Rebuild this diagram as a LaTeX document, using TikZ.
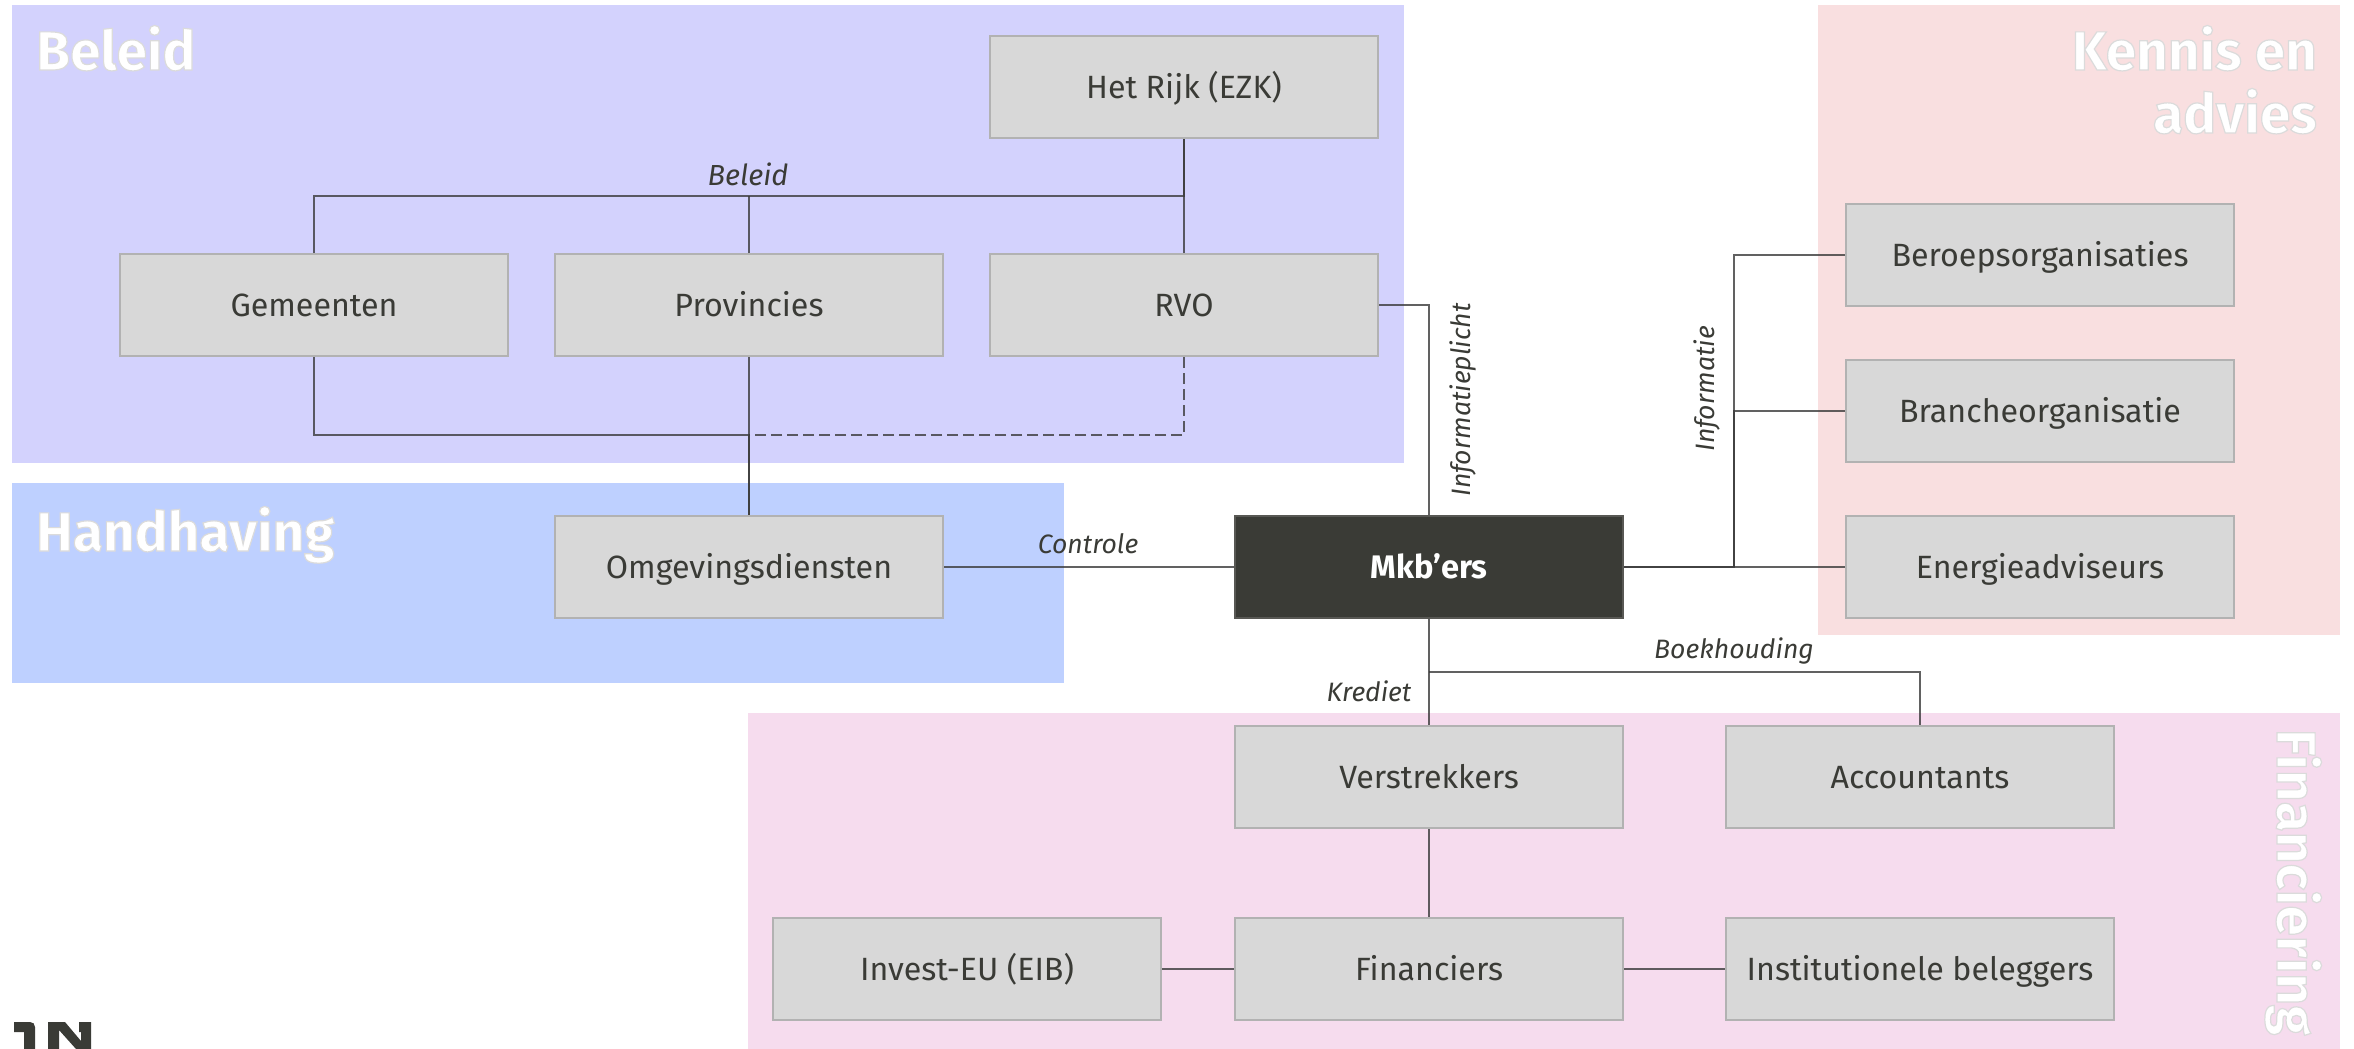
\documentclass[tikz,border=0pt]{standalone}
\usepackage{fontspec}
\setmainfont{Fira Sans}
\definecolor{ink}{HTML}{3A3B36}
\definecolor{boxfill}{HTML}{D8D8D8}
\definecolor{boxline}{HTML}{B2B2B2}
\definecolor{wire}{HTML}{3A3A3A}
\definecolor{zoneA}{HTML}{D3D2FD}
\definecolor{zoneB}{HTML}{BED0FF}
\definecolor{zoneC}{HTML}{F9DFE0}
\definecolor{zoneD}{HTML}{F6DCEE}
\newcommand{\outl}[1]{\special{pdf:code q 2 Tr 1.2 w 0.86 0.86 0.86 RG}#1\special{pdf:code Q}}
\tikzset{
  x=1pt,y=-1pt,
  zone/.style={fill=#1,draw=none},
  org/.style={draw=boxline,fill=boxfill,line width=2pt,minimum width=388pt,minimum height=102pt,inner sep=0pt,text=ink,text height=30pt,text depth=7pt,font=\fontsize{32.2}{38}\selectfont},
  actor/.style={org,draw=ink!85!white,fill=ink,text=white,font=\fontsize{32.6}{38}\selectfont\bfseries},
  wirel/.style={draw=wire,line width=2pt,opacity=.8},
  dashedwire/.style={wirel,dashed,dash pattern=on 11pt off 5pt},
  lab/.style={inner sep=0pt,text=ink,font=\fontsize{26.6}{32}\selectfont\itshape},
  head/.style={inner sep=0pt,text=white,font=\fontsize{55}{63}\selectfont\bfseries},
}
\begin{document}
\begin{tikzpicture}
\useasboundingbox (0,0) rectangle (2354,1049);
\fill[zone=zoneA] (12,5) rectangle (1404,463);
\fill[zone=zoneB] (12,483) rectangle (1064,683);
\fill[zone=zoneC] (1818,5) rectangle (2340,635);
\fill[zone=zoneD] (748,713) rectangle (2340,1049);

\node[head,anchor=base west] (hbeleid) at (36,70) {\outl{Beleid}};
\node[head,anchor=base west] (hhand) at (36,551) {\outl{Handhaving}};
\node[head,anchor=base east] (hkennis) at (2317,70) {\outl{Kennis en}};
\node[head,anchor=base east] (hadvies) at (2317,133) {\outl{advies}};
\node[head,anchor=base west,rotate=-90] (hfin) at (2277,729) {\outl{Financiering}};

\node[org] (rijk) at (1184,87) {Het Rijk (EZK)};
\node[org] (gem) at (314,305) {Gemeenten};
\node[org] (prov) at (749,305) {Provincies};
\node[org] (rvo) at (1184,305) {RVO};
\node[org] (omg) at (749,567) {Omgevingsdiensten};
\node[actor] (mkb) at (1429,567) {Mkb’ers};
\node[org] (ber) at (2040,254.5) {Beroepsorganisaties};
\node[org] (bra) at (2040,410.5) {Brancheorganisatie};
\node[org] (ene) at (2040,567) {Energieadviseurs};
\node[org] (ver) at (1429,777) {Verstrekkers};
\node[org] (acc) at (1920,777) {Accountants};
\node[org] (inv) at (967,969) {Invest-EU (EIB)};
\node[org] (fin) at (1429,969) {Financiers};
\node[org] (ins) at (1920,969) {Institutionele beleggers};

\coordinate (top) at (749,196);
\coordinate (merge) at (749,435);
\coordinate (bus) at (1734,567);
\coordinate (boek) at (1429,672);

\draw[wirel] (rijk.south) -- (rvo.north);
\draw[wirel] (rijk.south) |- (top) -| (gem.north);
\draw[wirel] (prov.north) -- (top);
\draw[wirel] (gem.south) |- (merge) -- (omg.north);
\draw[wirel] (prov.south) -- (omg.north);
\draw[dashedwire] (rvo.south) |- (merge);
\draw[wirel] (rvo.east) -| (mkb.north);
\draw[wirel] (omg.east) -- (mkb.west);
\draw[wirel] (mkb.east) -- (ene.west);
\draw[wirel] (mkb.east) -- (bus) |- (ber.west);
\draw[wirel] (bus) |- (bra.west);
\draw[wirel] (mkb.south) -- (ver.north);
\draw[wirel] (boek) -| (acc.north);
\draw[wirel] (ver.south) -- (fin.north);
\draw[wirel] (inv.east) -- (fin.west);
\draw[wirel] (fin.east) -- (ins.west);

\node[lab,anchor=base,font=\fontsize{29}{34}\selectfont\itshape] (lbeleid) at (748,185) {Beleid};
\node[lab,anchor=base] (lcontrole) at (1088,553) {Controle};
\node[lab,anchor=base] (lboek) at (1734,658) {Boekhouding};
\node[lab,anchor=base] (lkrediet) at (1369,701) {Krediet};
\node[lab,anchor=base,rotate=90] (linfop) at (1470,400) {Informatieplicht};
\node[lab,anchor=base,rotate=90] (linfo) at (1714,389) {Informatie};

\fill[ink] (14,1022) -- (30,1022) .. controls (33,1022) and (35,1024) .. (35,1027) -- (35,1049) -- (24,1049) -- (24,1032) -- (14,1032) -- cycle;
\fill[ink] (48,1022) -- (65,1022) -- (81,1041) -- (81,1032) -- (79,1032) -- (79,1022) -- (91,1022) -- (91,1032) -- (91,1049) -- (76,1049) -- (59,1030) -- (59,1049) -- (48,1049) -- cycle;
\end{tikzpicture}
\end{document}
